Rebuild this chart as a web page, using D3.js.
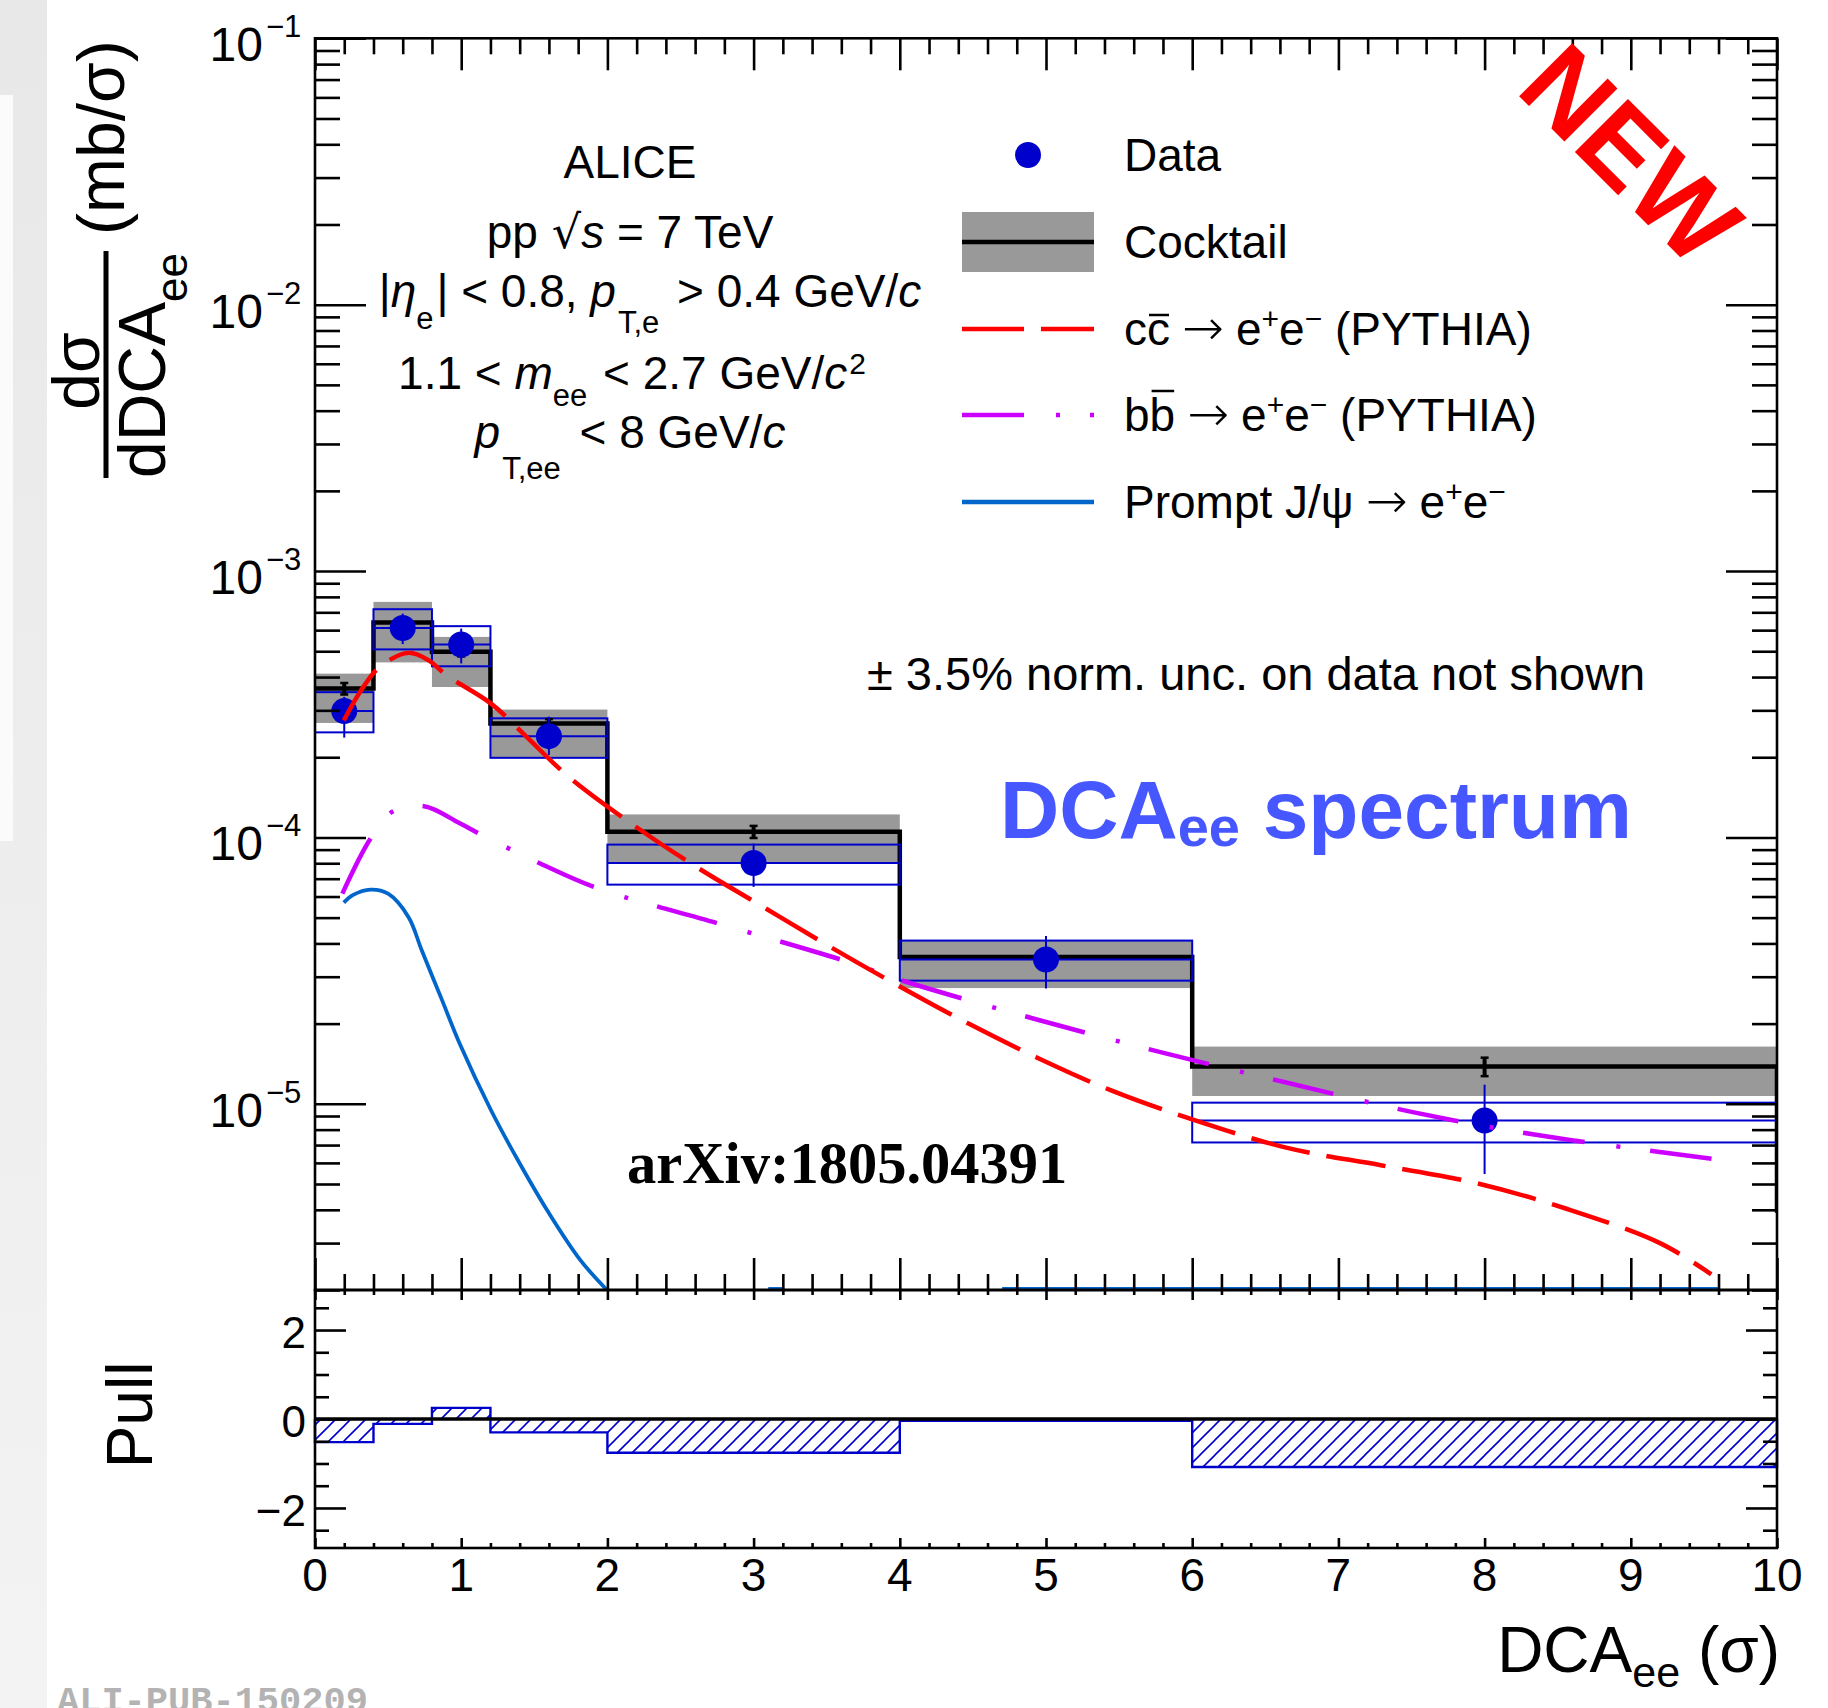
<!DOCTYPE html>
<html><head><meta charset="utf-8">
<script src="https://cdn.jsdelivr.net/npm/d3@7"></script>
<style>
body{margin:0;background:#fff;}
svg{display:block;font-family:"Liberation Sans",Arial,Helvetica,sans-serif;}
</style>
</head><body>
<svg id="c" width="1828" height="1708"></svg>
<script>
// ---------------- DATA ----------------
const binEdges = [0, 0.4, 0.8, 1.2, 2, 4, 6, 10];
const cocktail      = [3.62e-4, 6.41e-4, 4.98e-4, 2.68e-4, 1.05e-4, 3.56e-5, 1.38e-5];
const cocktailHigh  = [4.12e-4, 7.66e-4, 5.66e-4, 3.02e-4, 1.22e-4, 4.10e-5, 1.64e-5];
const cocktailLow   = [2.69e-4, 4.54e-4, 3.67e-4, 2.00e-4, 8.00e-5, 2.72e-5, 1.07e-5];
const cocktailStat  = [1.8e-5, 2.5e-5, 2.0e-5, 1.0e-5, 5.5e-6, 1.5e-6, 1.1e-6];
const cocktailEndDrop = 3.9e-6;
const dataX        = [0.2, 0.6, 1.0, 1.6, 3, 5, 8];
const dataY        = [2.98e-4, 6.11e-4, 5.30e-4, 2.40e-4, 8.02e-5, 3.48e-5, 8.65e-6];
const dataStatHigh = [3.37e-4, 6.92e-4, 6.08e-4, 2.84e-4, 9.48e-5, 4.27e-5, 1.18e-5];
const dataStatLow  = [2.37e-4, 5.32e-4, 4.50e-4, 2.04e-4, 6.52e-5, 2.71e-5, 5.45e-6];
const dataSysHigh  = [3.51e-4, 7.19e-4, 6.21e-4, 2.80e-4, 9.40e-5, 4.10e-5, 1.01e-5];
const dataSysLow   = [2.48e-4, 5.08e-4, 4.39e-4, 1.99e-4, 6.65e-5, 2.90e-5, 7.16e-6];
const pullValues   = [-0.52, -0.11, 0.25, -0.30, -0.76, -0.04, -1.08];

const ccX = [0.197, 0.32, 0.441, 0.64, 0.777, 0.90, 1.204, 1.449, 1.724, 2.151, 2.609, 3.067, 3.525, 3.983, 4.47, 4.94, 5.45, 6.0, 6.65, 7.29, 7.93, 8.57, 9.21, 9.55];
const ccY = [2.75e-4, 3.6e-4, 4.36e-4, 4.93e-4, 4.62e-4, 4.06e-4, 3.18e-4, 2.38e-4, 1.71e-4, 1.14e-4, 7.75e-5, 5.48e-5, 3.88e-5, 2.79e-5, 2.0e-5, 1.49e-5, 1.12e-5, 8.74e-6, 6.83e-6, 5.88e-6, 5.06e-6, 4.02e-6, 2.98e-6, 2.29e-6];
const bbX = [0.187, 0.38, 0.53, 0.746, 0.99, 1.128, 1.54, 1.936, 2.76, 3.647, 4.0, 4.90, 5.79, 6.65, 7.50, 8.35, 9.59];
const bbY = [6.15e-5, 9.9e-5, 1.25e-4, 1.31e-4, 1.13e-4, 1.03e-4, 7.98e-5, 6.43e-5, 4.75e-5, 3.41e-5, 2.92e-5, 2.10e-5, 1.56e-5, 1.20e-5, 9.33e-6, 7.65e-6, 6.18e-6];
const jpsiX = [0.197, 0.258, 0.38, 0.50, 0.64, 0.73, 0.869, 0.99, 1.204, 1.388, 1.601, 1.815, 1.997];
const jpsiY = [5.69e-5, 6.07e-5, 6.37e-5, 6.15e-5, 5.02e-5, 3.77e-5, 2.45e-5, 1.68e-5, 9.46e-6, 6.14e-6, 3.88e-6, 2.59e-6, 2.0e-6];
const jpsiTailX = [[3.1, 3.2], [4.7, 9.6]];
const jpsiTailY = 2.03e-6;

const yMajor = [1e-5, 1e-4, 1e-3, 1e-2, 1e-1];
const yMajorExp = ["−5", "−4", "−3", "−2", "−1"];
const xTickLabels = ["0","1","2","3","4","5","6","7","8","9","10"];
const pullTicks = [-2, 0, 2];
const pullTickLabels = ["−2", "0", "2"];

// ---------------- LAYOUT ----------------
const L = 315, R = 1777, T = 38.3, B = 1290, PB = 1548;
const svg = d3.select('#c');
const x = d3.scaleLinear().domain([0, 10]).range([L, R]);
const y = d3.scaleLog().domain([2e-6, 0.1]).range([B, T]);
const yp = d3.scaleLinear().domain([-2.9, 2.9]).range([PB, B]);

const defs = svg.append('defs');
const grad = defs.append('linearGradient').attr('id','strip').attr('x1',0).attr('y1',0).attr('x2',0).attr('y2',1);
grad.append('stop').attr('offset','0%').attr('stop-color','#e8e8e8');
grad.append('stop').attr('offset','100%').attr('stop-color','#f3f3f3');
defs.append('clipPath').attr('id','clipTop').append('rect').attr('x',L).attr('y',T).attr('width',R-L).attr('height',B-T);
const pat = defs.append('pattern').attr('id','hatch').attr('patternUnits','userSpaceOnUse').attr('width',15).attr('height',15);
pat.append('path').attr('d','M-4,4 L4,-4 M0,15 L15,0 M11,19 L19,11').attr('stroke','#0000cc').attr('stroke-width',1.6);

// left page strip
svg.append('rect').attr('x',0).attr('y',0).attr('width',47).attr('height',1708).attr('fill','url(#strip)');
svg.append('rect').attr('x',0).attr('y',95).attr('width',13).attr('height',746).attr('fill','#fbfbfb');

function rich(parent, px, py, size, parts, anchor) {
  const t = parent.append('text').attr('x', px).attr('y', py).attr('font-size', size)
    .attr('text-anchor', anchor || 'start');
  let cur = 0;
  for (const p of parts) {
    const s = t.append('tspan').text(p.t);
    const off = p.off || 0;
    if (off !== cur) { s.attr('dy', off - cur); cur = off; }
    if (p.s) s.attr('font-size', p.s);
    if (p.i) s.attr('font-style', 'italic');
    if (p.f) s.attr('font-family', p.f);
    if (p.w) s.attr('font-weight', p.w);
    if (p.dx) s.attr('dx', p.dx);
  }
  return t;
}
const SYM = '"DejaVu Sans",sans-serif';

// ---------------- UPPER PANEL ----------------
const plot = svg.append('g').attr('clip-path','url(#clipTop)');
plot.selectAll('rect.band').data(cocktail).enter().append('rect')
  .attr('x', (d,i) => x(binEdges[i])).attr('width', (d,i) => x(binEdges[i+1]) - x(binEdges[i]))
  .attr('y', (d,i) => y(cocktailHigh[i])).attr('height', (d,i) => y(cocktailLow[i]) - y(cocktailHigh[i]))
  .attr('fill', '#999999');
const stepPts = cocktail.map((v,i) => [binEdges[i], v]);
stepPts.push([10, cocktail[cocktail.length-1]]);
stepPts.push([10, cocktailEndDrop]);
plot.append('path').attr('d', d3.line().x(d=>x(d[0])).y(d=>y(d[1])).curve(d3.curveStepAfter)(stepPts))
  .attr('fill','none').attr('stroke','#000').attr('stroke-width',4.5);

const boxes = plot.append('g').attr('stroke','#0000cc').attr('stroke-width',2).attr('fill','none');
dataY.forEach((v,i) => {
  boxes.append('rect').attr('x', x(binEdges[i])).attr('width', x(binEdges[i+1]) - x(binEdges[i]))
    .attr('y', y(dataSysHigh[i])).attr('height', y(dataSysLow[i]) - y(dataSysHigh[i]));
  boxes.append('line').attr('x1', x(binEdges[i])).attr('x2', x(binEdges[i+1])).attr('y1', y(v)).attr('y2', y(v));
});
const cst = plot.append('g').attr('stroke','#000').attr('stroke-width',4);
cocktail.forEach((v,i) => {
  const cx = x(dataX[i]);
  cst.append('line').attr('x1',cx).attr('x2',cx).attr('y1',y(v+cocktailStat[i])).attr('y2',y(v-cocktailStat[i]));
  cst.append('line').attr('x1',cx-4).attr('x2',cx+4).attr('y1',y(v+cocktailStat[i])).attr('y2',y(v+cocktailStat[i])).attr('stroke-width',2.5);
  cst.append('line').attr('x1',cx-4).attr('x2',cx+4).attr('y1',y(v-cocktailStat[i])).attr('y2',y(v-cocktailStat[i])).attr('stroke-width',2.5);
});
const dg = plot.append('g');
dataY.forEach((v,i) => {
  dg.append('line').attr('x1', x(dataX[i])).attr('x2', x(dataX[i]))
    .attr('y1', y(dataStatHigh[i])).attr('y2', y(dataStatLow[i])).attr('stroke','#0000cc').attr('stroke-width',2);
  dg.append('circle').attr('cx', x(dataX[i])).attr('cy', y(v)).attr('r', 13).attr('fill','#0000cc');
});

const curve = d3.line().x(d=>x(d[0])).y(d=>y(d[1])).curve(d3.curveCatmullRom.alpha(0.5));
plot.append('path').attr('d', curve(jpsiX.map((v,i)=>[v, jpsiY[i]])))
  .attr('fill','none').attr('stroke','#0066cc').attr('stroke-width',3.8);
jpsiTailX.forEach(seg => {
  plot.append('line').attr('x1',x(seg[0])).attr('x2',x(seg[1])).attr('y1',y(jpsiTailY)).attr('y2',y(jpsiTailY))
    .attr('stroke','#0066cc').attr('stroke-width',2.5);
});
plot.append('path').attr('d', curve(bbX.map((v,i)=>[v, bbY[i]])))
  .attr('fill','none').attr('stroke','#cc00ff').attr('stroke-width',4.5).attr('stroke-dasharray','62,32,4,30');
plot.append('path').attr('d', curve(ccX.map((v,i)=>[v, ccY[i]])))
  .attr('fill','none').attr('stroke','#ff0000').attr('stroke-width',4.5).attr('stroke-dasharray','60,17');

// ---------------- PULL PANEL ----------------
const pg = svg.append('g');
pullValues.forEach((v,i) => {
  const y0 = yp(0), y1 = yp(v);
  pg.append('rect').attr('x', x(binEdges[i])).attr('width', x(binEdges[i+1]) - x(binEdges[i]))
    .attr('y', Math.min(y0,y1)).attr('height', Math.abs(y1-y0)).attr('fill','url(#hatch)');
});
const pullPts = [[0,0]].concat(pullValues.map((v,i)=>[binEdges[i], v]));
pullPts.push([10, pullValues[pullValues.length-1]]);
pullPts.push([10, 0]);
pg.append('path').attr('d', d3.line().x(d=>x(d[0])).y(d=>yp(d[1])).curve(d3.curveStepAfter)(pullPts))
  .attr('fill','none').attr('stroke','#0000cc').attr('stroke-width',2.4);
pg.append('line').attr('x1', x(0)).attr('x2', x(10)).attr('y1', yp(0)).attr('y2', yp(0))
  .attr('stroke','#000').attr('stroke-width',3.5);

// ---------------- AXES / TICKS ----------------
const tickW = 2.6;
function axisG(gen, tx, ty) {
  const g = svg.append('g').attr('transform', `translate(${tx},${ty})`).call(gen);
  g.select('.domain').remove();
  g.selectAll('line').attr('stroke','#000').attr('stroke-width',tickW);
  g.selectAll('text').remove();
  return g;
}
const yMinor = [];
for (let e = -6; e <= -2; e++) for (let k = 2; k <= 9; k++) { const v = k*Math.pow(10,e); if (v >= 2e-6 && v < 0.1) yMinor.push(v); }
const xMajor = d3.range(0, 11, 1);
const xMinor = d3.range(0, 50).map(i => i*0.2).filter(v => Math.abs(v - Math.round(v)) > 1e-6);
axisG(d3.axisLeft(y).tickValues(yMajor).tickSize(-51), L, 0);
axisG(d3.axisLeft(y).tickValues(yMinor).tickSize(-25), L, 0);
axisG(d3.axisRight(y).tickValues(yMajor).tickSize(-51), R, 0);
axisG(d3.axisRight(y).tickValues(yMinor).tickSize(-25), R, 0);
axisG(d3.axisTop(x).tickValues(xMajor).tickSize(-32), 0, T);
axisG(d3.axisTop(x).tickValues(xMinor).tickSize(-16), 0, T);
axisG(d3.axisBottom(x).tickValues(xMajor).tickSize(-32), 0, B);
axisG(d3.axisBottom(x).tickValues(xMinor).tickSize(-16), 0, B);
axisG(d3.axisTop(x).tickValues(xMajor).tickSize(-10), 0, B);
axisG(d3.axisTop(x).tickValues(xMinor).tickSize(-5), 0, B);
axisG(d3.axisBottom(x).tickValues(xMajor).tickSize(-10), 0, PB);
axisG(d3.axisBottom(x).tickValues(xMinor).tickSize(-5), 0, PB);
const pMinor = d3.range(-2.5, 2.51, 0.5).filter(v => Math.abs(v % 2) > 1e-6);
axisG(d3.axisLeft(yp).tickValues(pullTicks).tickSize(-31), L, 0);
axisG(d3.axisLeft(yp).tickValues(pMinor).tickSize(-14), L, 0);
axisG(d3.axisRight(yp).tickValues(pullTicks).tickSize(-31), R, 0);
axisG(d3.axisRight(yp).tickValues(pMinor).tickSize(-14), R, 0);

svg.append('rect').attr('x',L).attr('y',T).attr('width',R-L).attr('height',B-T).attr('fill','none').attr('stroke','#000').attr('stroke-width',2.6);
svg.append('rect').attr('x',L).attr('y',B).attr('width',R-L).attr('height',PB-B).attr('fill','none').attr('stroke','#000').attr('stroke-width',2.6);

// tick labels
const lab = svg.append('g').attr('fill','#000');
yMajor.forEach((v,i) => {
  lab.append('text').attr('x', 263).attr('y', y(v) + 23).attr('font-size',48).attr('text-anchor','end').text('10');
  lab.append('text').attr('x', 266).attr('y', y(v) - 1).attr('font-size',31).text(yMajorExp[i]);
});
xTickLabels.forEach((s,i) => {
  lab.append('text').attr('x', x(i)).attr('y', 1591).attr('font-size',46).attr('text-anchor','middle').text(s);
});
pullTicks.forEach((v,i) => {
  lab.append('text').attr('x', 306).attr('y', yp(v) + 18).attr('font-size',44).attr('text-anchor','end').text(pullTickLabels[i]);
});

// axis titles
svg.append('text').attr('transform','translate(99,371) rotate(-90)').attr('font-size',66).attr('text-anchor','middle').text('dσ');
svg.append('line').attr('x1',106).attr('x2',106).attr('y1',251).attr('y2',478).attr('stroke','#000').attr('stroke-width',5);
rich(svg.append('g').attr('transform','translate(165,478) rotate(-90)'), 0, 0, 66,
  [{t:'dDCA'}, {t:'ee', s:44, off:22}]);
svg.append('text').attr('transform','translate(124,235) rotate(-90)').attr('font-size',66).text('(mb/σ)');
svg.append('text').attr('transform','translate(152,1415) rotate(-90)').attr('font-size',64).attr('text-anchor','middle').text('Pull');
rich(svg, 1780, 1672, 64, [{t:'DCA'}, {t:'ee', s:43, off:15}, {t:' (σ)', off:0}], 'end');

// ---------------- ANNOTATIONS ----------------
const ann = svg.append('g');
rich(ann, 630, 178, 46, [{t:'ALICE'}], 'middle');
rich(ann, 630, 248, 46, [{t:'pp'}, {t:'√', f:SYM, dx:14}, {t:'s', i:true}, {t:' = 7 TeV'}], 'middle');
rich(ann, 650, 307, 46, [{t:'|'}, {t:'η', i:true}, {t:'e', s:31, off:22}, {t:'| < 0.8, ', off:0, dx:3}, {t:'p', i:true},
  {t:'T,e', s:31, off:26, dx:2}, {t:' > 0.4 GeV/', off:0, dx:5}, {t:'c', i:true}], 'middle');
rich(ann, 632, 389, 46, [{t:'1.1 < '}, {t:'m', i:true}, {t:'ee', s:31, off:17}, {t:' < 2.7 GeV/', off:0, dx:3}, {t:'c', i:true},
  {t:'2', s:30, off:-15, dx:2}], 'middle');
rich(ann, 630, 448, 46, [{t:'p', i:true}, {t:'T,ee', s:31, off:31, dx:2}, {t:' < 8 GeV/', off:0, dx:6}, {t:'c', i:true}], 'middle');

rich(ann, 867, 690, 47, [{t:'± 3.5% norm. unc. on data not shown'}]);
rich(ann, 1000, 838, 82, [{t:'DCA'}, {t:'ee', s:56, off:8}, {t:' spectrum', off:0}]).attr('font-weight','bold').attr('fill','#4657ff');
ann.append('text').attr('x',627).attr('y',1183).attr('font-family','"Liberation Serif","Times New Roman",serif')
  .attr('font-weight','bold').attr('font-size',58.5).text('arXiv:1805.04391');
ann.append('text').attr('transform','translate(1604,181) rotate(45)').attr('text-anchor','middle')
  .attr('font-weight','bold').attr('font-size',109).attr('fill','#ff0000').text('NEW');
ann.append('text').attr('x',57).attr('y',1712).attr('font-family','"Liberation Mono","Courier New",monospace')
  .attr('font-weight','bold').attr('font-size',37).attr('fill','#b3b3b3').text('ALI-PUB-150209');

// ---------------- LEGEND ----------------
const leg = svg.append('g');
const lx0 = 962, lx1 = 1094, ltx = 1124;
const rows = [155, 242, 329, 415, 502];
leg.append('circle').attr('cx',1028).attr('cy',rows[0]).attr('r',13).attr('fill','#0000cc');
rich(leg, ltx, rows[0]+16, 46, [{t:'Data'}]);
leg.append('rect').attr('x',lx0).attr('y',rows[1]-30).attr('width',lx1-lx0).attr('height',60).attr('fill','#999999');
leg.append('line').attr('x1',lx0).attr('x2',lx1).attr('y1',rows[1]).attr('y2',rows[1]).attr('stroke','#000').attr('stroke-width',4.6);
rich(leg, ltx, rows[1]+16, 46, [{t:'Cocktail'}]);
leg.append('line').attr('x1',lx0).attr('x2',lx1).attr('y1',rows[2]).attr('y2',rows[2]).attr('stroke','#ff0000').attr('stroke-width',4.5).attr('stroke-dasharray','62,17');
const arrowParts = [{t:'→', f:SYM, s:50, w:200, dx:12}, {t:'e', s:46, w:400, dx:12}, {t:'+', s:30, off:-16}, {t:'e', s:46, off:0}, {t:'−', s:30, off:-16}];
const ccT = rich(leg, ltx, rows[2]+16, 46, [{t:'cc'}].concat(arrowParts, [{t:' (PYTHIA)', s:46, off:0}]));
leg.append('line').attr('x1',lx0).attr('x2',lx1).attr('y1',rows[3]).attr('y2',rows[3]).attr('stroke','#cc00ff').attr('stroke-width',4.5).attr('stroke-dasharray','62,32,4,30');
const bbT = rich(leg, ltx, rows[3]+16, 46, [{t:'bb'}].concat(arrowParts, [{t:' (PYTHIA)', s:46, off:0}]));
leg.append('line').attr('x1',lx0).attr('x2',lx1).attr('y1',rows[4]).attr('y2',rows[4]).attr('stroke','#0066cc').attr('stroke-width',4.5);
rich(leg, ltx, rows[4]+16, 46, [{t:'Prompt J/ψ'}].concat(arrowParts));
[[ccT, rows[2]+16-30], [bbT, rows[3]+16-40]].forEach(([t, oy]) => {
  const n = t.node();
  const a = n.getStartPositionOfChar(1).x, b = n.getEndPositionOfChar(1).x;
  leg.append('line').attr('x1', a + 2).attr('x2', b - 1).attr('y1', oy).attr('y2', oy).attr('stroke','#000').attr('stroke-width',2.5);
});
</script>
</body></html>
